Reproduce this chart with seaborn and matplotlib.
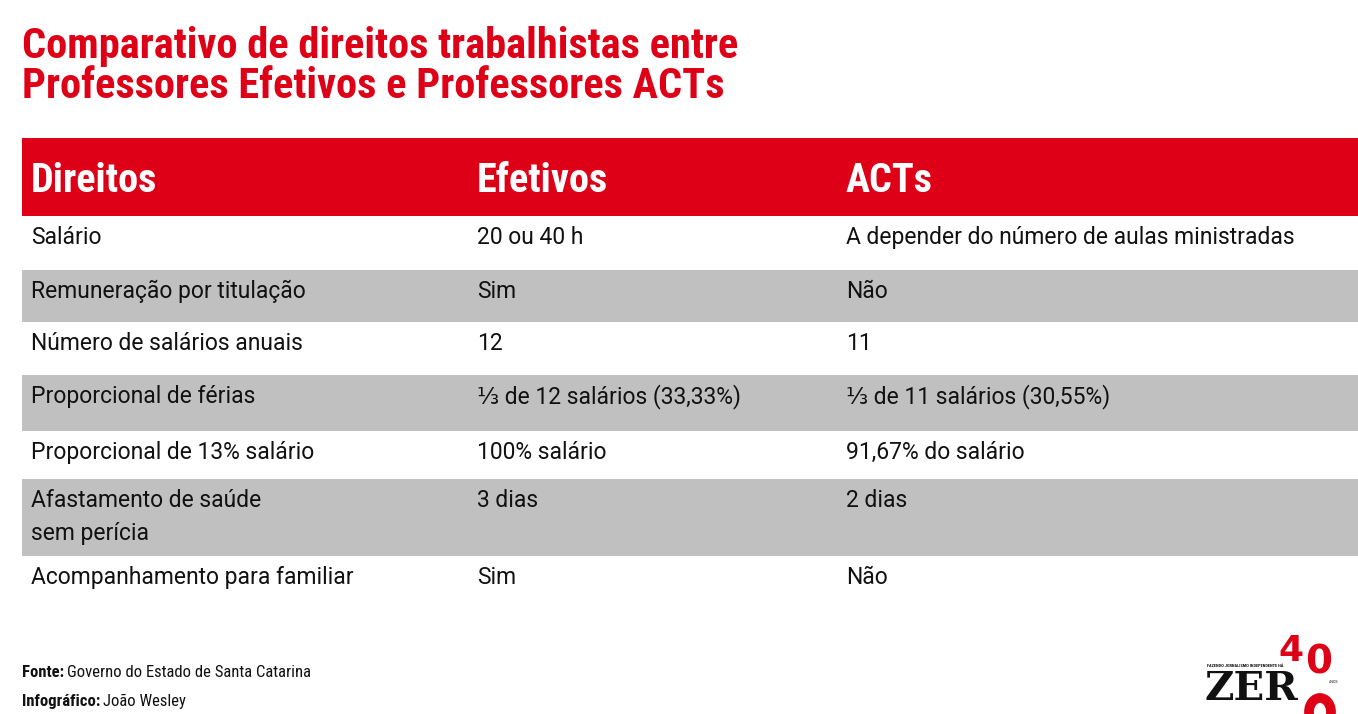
import matplotlib
matplotlib.use("Agg")
import matplotlib.pyplot as plt
from matplotlib import font_manager
from matplotlib.patches import Ellipse
import seaborn as sns

# dados da tabela
colunas = ["Direitos", "Efetivos", "ACTs"]
direitos = ["Salário", "Remuneração por titulação", "Número de salários anuais",
            "Proporcional de férias", "Proporcional de 13% salário",
            "Afastamento de saúde\nsem perícia", "Acompanhamento para familiar"]
efetivos = ["20 ou 40 h", "Sim", "12", "⅓ de 12 salários (33,33%)",
            "100% salário", "3 dias", "Sim"]
acts = ["A depender do número de aulas ministradas", "Não", "11",
        "⅓ de 11 salários (30,55%)", "91,67% do salário", "2 dias", "Não"]

titulo = "Comparativo de direitos trabalhistas entre\nProfessores Efetivos e Professores ACTs"
rodape = [("Fonte:", "Governo do Estado de Santa Catarina"),
          ("Infográfico:", "João Wesley")]

VERMELHO = "#DE0016"
CINZA = "#C0C0C0"
TEXTO = "#111111"

sns.set_theme(style="white")

nomes = {f.name for f in font_manager.fontManager.ttflist}
def escolhe(opcoes):
    for o in opcoes:
        if o in nomes:
            return o
    return "DejaVu Sans"

f_cond = escolhe(["Roboto Condensed", "Liberation Sans Narrow", "Roboto"])
f_corpo = escolhe(["Roboto", "Lato", "Noto Sans"])
plt.rcParams["font.family"] = [f_corpo, "DejaVu Sans"]

W, H = 1358, 714
fig = plt.figure(figsize=(W / 100, H / 100), dpi=100)
ax = fig.add_axes([0, 0, 1, 1])
ax.set_xlim(0, W)
ax.set_ylim(H, 0)
ax.axis("off")
renderer = fig.canvas.get_renderer()

# titulo
for i, t in enumerate(titulo.split("\n")):
    ax.text(22, 58 + i * 40, t, color=VERMELHO, fontsize=30.5, fontweight="bold",
            family=[f_cond, "DejaVu Sans"], va="baseline", ha="left")

# faixas da tabela
x0 = 22
col_x = [31, 477, 846]
topo_cab, base_cab = 138, 216
topos = [216, 270, 322, 375, 431, 479, 556]
bases = [270, 322, 375, 431, 479, 556, 610]

ax.axhspan(topo_cab, base_cab, xmin=x0 / W, xmax=1, color=VERMELHO, lw=0)
for i, (t, b) in enumerate(zip(topos, bases)):
    if i % 2 == 1:
        ax.axhspan(t, b, xmin=x0 / W, xmax=1, color=CINZA, lw=0)

for x, c in zip(col_x, colunas):
    ax.text(x, 192, c, color="white", fontsize=29, fontweight="bold",
            family=[f_cond, "DejaVu Sans"], va="baseline", ha="left")

for i, linha in enumerate(zip(direitos, efetivos, acts)):
    for x, celula in zip(col_x, linha):
        for k, parte in enumerate(celula.split("\n")):
            ax.text(x, topos[i] + 28 + k * 33, parte, color=TEXTO,
                    fontsize=16.5, va="baseline", ha="left")

# rodape
for j, (rot, val) in enumerate(rodape):
    y = 677 + j * 29
    t = ax.text(22, y, rot, fontsize=12, fontweight="bold", color=TEXTO,
                family=[f_cond, "DejaVu Sans"], va="baseline")
    bb = t.get_window_extent(renderer)
    ax.text(bb.x1 + 3, y, val, fontsize=12, color=TEXTO,
            family=[f_cond, "DejaVu Sans"], va="baseline")

# logo ZERO 40
ax.text(1207, 667, "FAZENDO JORNALISMO INDEPENDENTE HÁ", fontsize=3.2,
        fontweight="bold", color=TEXTO, family=[f_cond, "DejaVu Sans"],
        va="baseline")
ax.text(1205, 700, "ZER", fontsize=29, fontweight="black", color=TEXTO,
        family="DejaVu Serif", va="baseline")
ax.text(1278, 661, "4", fontsize=26, fontweight="bold", color=VERMELHO,
        family="DejaVu Sans", va="baseline")
ax.text(1305, 673, "0", fontsize=28, fontweight="bold", color=VERMELHO,
        family="DejaVu Sans", va="baseline")
ax.add_patch(Ellipse((1320, 712), 22, 28, facecolor="none",
                     edgecolor=VERMELHO, lw=7))
ax.text(1329, 683, "ANOS", fontsize=2.6, color=TEXTO, va="baseline")

fig.savefig("out.png", dpi=100, facecolor="white")
